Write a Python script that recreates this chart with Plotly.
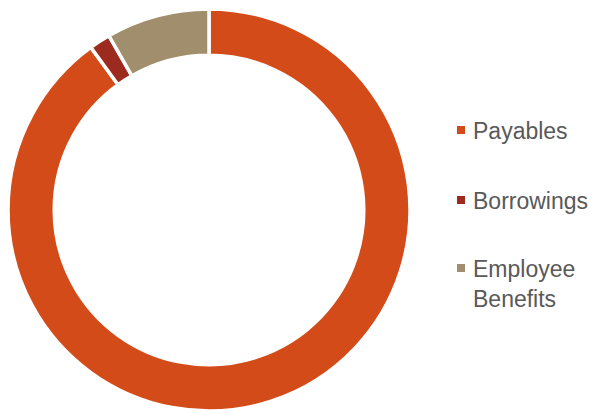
import plotly.graph_objects as go

labels = ["Payables", "Borrowings", "Employee Benefits"]
legend_text = ["Payables", "Borrowings", "Employee<br>Benefits"]
values = [90.0, 1.7, 8.3]
colors = ["#D34B18", "#9C2A1E", "#A18E6D"]

W, H = 594, 413
fig = go.Figure(go.Pie(
    labels=labels, values=values, hole=0.77, sort=False,
    direction="clockwise", rotation=0,
    marker=dict(colors=colors, line=dict(color="white", width=3.5)),
    textinfo="none", showlegend=False,
    domain=dict(x=[8 / W, 410 / W], y=[2 / H, 404 / H]),
))

# manual legend
leg_y = [130, 200, 268]
for i, (t, c) in enumerate(zip(legend_text, colors)):
    y = leg_y[i]
    fig.add_shape(type="rect", xref="paper", yref="paper",
                  x0=457 / W, x1=465 / W, y0=1 - (y + 4) / H, y1=1 - (y - 4) / H,
                  fillcolor=c, line=dict(width=0))
    fig.add_annotation(x=471 / W, y=1 - (y - 14) / H, xref="paper", yref="paper",
                       xanchor="left", yanchor="top", align="left", showarrow=False,
                       text=t, font=dict(family="Liberation Sans", size=23, color="#595959"))

fig.update_layout(width=W, height=H, margin=dict(l=0, r=0, t=0, b=0),
                  paper_bgcolor="white", plot_bgcolor="white")
fig.write_html("out.html")
